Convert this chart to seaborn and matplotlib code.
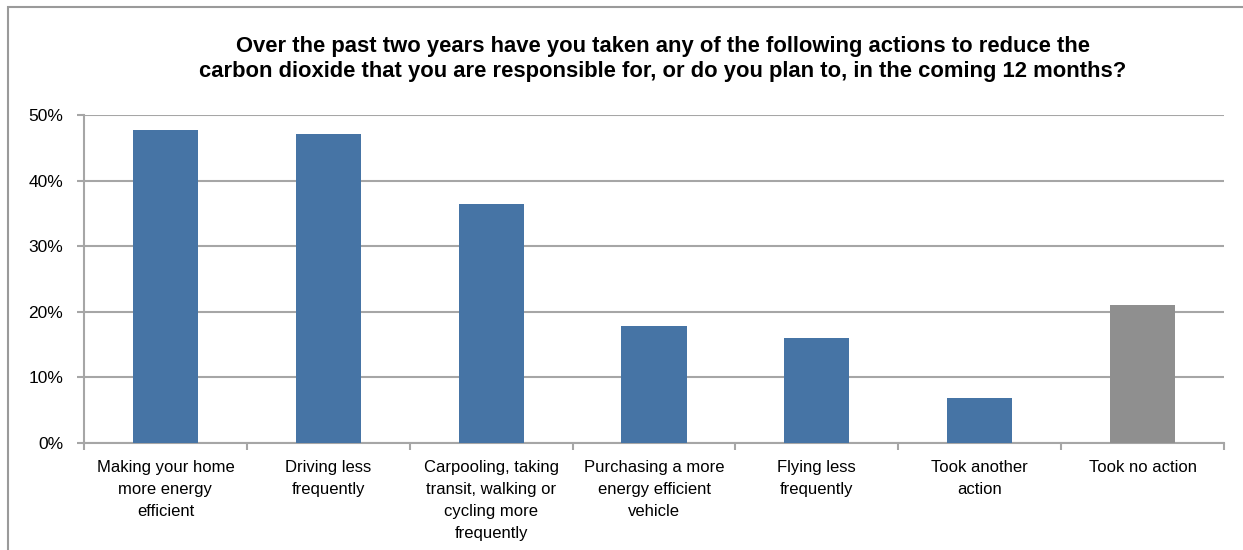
import matplotlib
matplotlib.use("Agg")
import matplotlib.pyplot as plt
from matplotlib.patches import Rectangle
from matplotlib.ticker import FixedLocator, PercentFormatter
import seaborn as sns
import pandas as pd

categories = [
    "Making your home\nmore energy\nefficient",
    "Driving less\nfrequently",
    "Carpooling, taking\ntransit, walking or\ncycling more\nfrequently",
    "Purchasing a more\nenergy efficient\nvehicle",
    "Flying less\nfrequently",
    "Took another\naction",
    "Took no action",
]
shares = [47.7, 47.1, 36.4, 17.8, 16.0, 6.9, 21.0]
groups = ["action", "action", "action", "action", "action", "action", "none"]
y_ticks = [0, 10, 20, 30, 40, 50]

title = ("Over the past two years have you taken any of the following actions to reduce the\n"
         "carbon dioxide that you are responsible for, or do you plan to, in the coming 12 months?")

sns.set_theme(style="white")
plt.rcParams["font.family"] = ["Liberation Sans", "DejaVu Sans"]

df = pd.DataFrame({"category": categories, "share": shares, "group": groups})

fig = plt.figure(figsize=(12.43, 5.5), dpi=100)
ax = fig.add_axes([84 / 1243, 1 - 443 / 550, (1224 - 84) / 1243, (443 - 115) / 550])

sns.barplot(data=df, x="category", y="share", hue="group",
            palette={"action": "#4674A5", "none": "#8F8F8F"},
            saturation=1, width=0.4, dodge=False, legend=False, ax=ax,
            zorder=3, edgecolor="none")

ax.set_xlim(-0.5, len(categories) - 0.5)
ax.set_ylim(0, 50)
ax.set_yticks(y_ticks)
ax.yaxis.set_major_formatter(PercentFormatter(decimals=0))
ax.grid(axis="y", color="#A6A6A6", linewidth=1.5, zorder=0)
ax.set_axisbelow(True)
ax.set_xlabel("")
ax.set_ylabel("")

for side in ["top", "right"]:
    ax.spines[side].set_visible(False)
for side in ["left", "bottom"]:
    ax.spines[side].set_color("#A6A6A6")
    ax.spines[side].set_linewidth(1.5)

ax.tick_params(axis="y", which="major", length=5, width=1.5, color="#A6A6A6",
               labelsize=12.5, pad=10, labelcolor="#000000", left=True)
ax.tick_params(axis="x", which="major", length=0, labelsize=12, pad=12,
               labelcolor="#000000")
ax.xaxis.set_minor_locator(FixedLocator([i - 0.5 for i in range(len(categories) + 1)]))
ax.tick_params(axis="x", which="minor", length=5, width=1.5, color="#A6A6A6",
               bottom=True, direction="out")
for lbl in ax.get_xticklabels():
    lbl.set_linespacing(1.6)
    lbl.set_verticalalignment("top")

fig.text(663 / 1243, 1 - 59 / 550, title, ha="center", va="center",
         fontsize=15.8, fontweight="bold", linespacing=1.3, color="#000000")

# chart-area frame
fig.patches.append(Rectangle((8 / 1243, -0.2), 1.2, 1 - 7 / 550 + 0.2,
                             transform=fig.transFigure, fill=False,
                             edgecolor="#9A9A9A", linewidth=1.5))

fig.savefig("out.png", dpi=100)
